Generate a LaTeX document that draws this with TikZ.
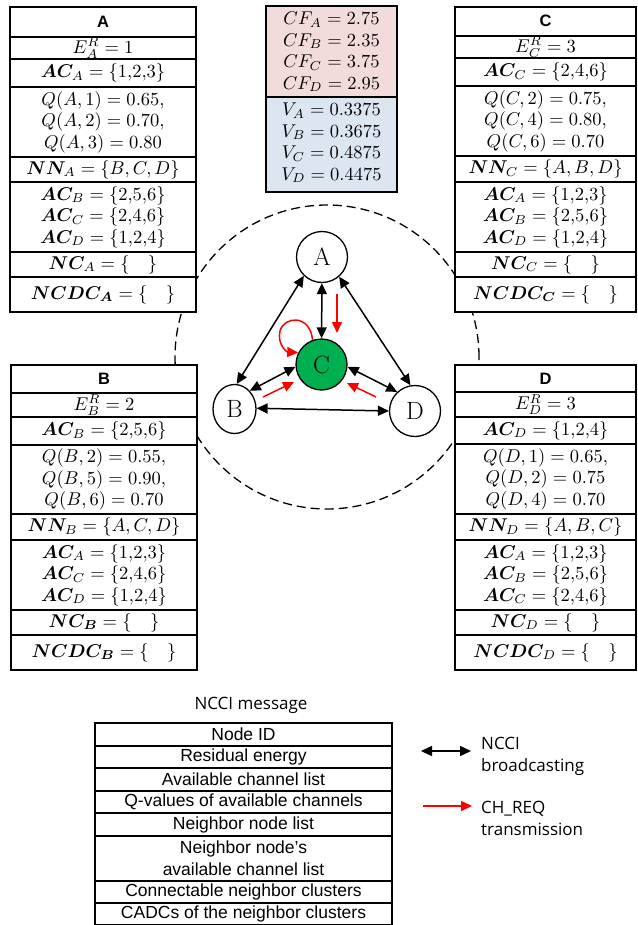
\documentclass[tikz,border=0pt]{standalone}
\usepackage{amsmath,bm}
\usepackage{fontspec}
\setsansfont{Liberation Sans}
\newfontfamily\legfont{Open Sans}
\usetikzlibrary{arrows.meta,shapes.geometric}
\definecolor{pinkbg}{HTML}{F2DCDB}
\definecolor{bluebg}{HTML}{DCE6F1}
\definecolor{cgreen}{HTML}{00B050}
\tikzset{
  boxline/.style={line width=2.2pt},
  mt/.style={font=\fontsize{10}{11.62}\selectfont, scale=1.85, align=center, inner sep=0pt},
  hdr/.style={font=\fontsize{16.5}{16.5}\selectfont\sffamily\bfseries, inner sep=0pt},
  tbl/.style={font=\fontsize{17.5}{22}\selectfont\sffamily, align=center, inner sep=0pt},
  leg/.style={font=\fontsize{17}{22}\selectfont\legfont, align=left, inner sep=0pt},
  nd/.style={circle, draw, line width=1.3pt, fill=white, inner sep=0pt, font=\fontsize{25}{25}\selectfont},
  barr/.style={line width=1.5pt, {Triangle[length=11pt,width=10pt]}-{Triangle[length=11pt,width=10pt]}},
  rarr/.style={line width=1.5pt, red, -{Triangle[length=11pt,width=10pt]}},
}
\begin{document}
\begin{tikzpicture}[x=1pt,y=-1pt]
\fill[white] (0,0) rectangle (637,925);
\useasboundingbox (0,0) rectangle (637,925);

% dashed circle (range)
\draw[line width=1.3pt, dash pattern=on 9pt off 5pt] (327,357) circle[radius=152pt];

% ---------- Box A ----------
\draw[boxline, fill=white] (10,7) rectangle (196,312);
\foreach \y in {37,59,87,157,182,252,277} \draw[boxline] (10,\y) -- (196,\y);
\node[hdr] (A-h) at (103,22) {A};
\node[mt] (A-e) at (103,48) {$E_A^R = 1$};
\node[mt] (A-ac) at (103,73) {$\bm{AC}_A = \{1{,}2{,}3\}$};
\node[mt] (A-q) at (103,122) {$Q(A,1) = 0.65,$\\$Q(A,2) = 0.70,$\\$Q(A,3) = 0.80$};
\node[mt] (A-nn) at (103,169.5) {$\bm{NN}_A = \{B,C,D\}$};
\node[mt] (A-acs) at (103,217) {$\bm{AC}_B = \{2{,}5{,}6\}$\\$\bm{AC}_C = \{2{,}4{,}6\}$\\$\bm{AC}_D = \{1{,}2{,}4\}$};
\node[mt] (A-nc) at (103,264.5) {$\bm{NC}_A = \{\quad\}$};
\node[mt] (A-ncdc) at (103,294.5) {$\bm{NCDC}_{\bm{A}} = \{\quad\}$};

% ---------- Box C ----------
\draw[boxline, fill=white] (455,7) rectangle (636,312);
\foreach \y in {36,58,86,156,182,252,277} \draw[boxline] (455,\y) -- (636,\y);
\node[hdr] (C-h) at (545.5,21) {C};
\node[mt] (C-e) at (545.5,47) {$E_C^R = 3$};
\node[mt] (C-ac) at (545.5,72) {$\bm{AC}_C = \{2{,}4{,}6\}$};
\node[mt] (C-q) at (545.5,121) {$Q(C,2) = 0.75,$\\$Q(C,4) = 0.80,$\\$Q(C,6) = 0.70$};
\node[mt] (C-nn) at (545.5,169) {$\bm{NN}_C = \{A,B,D\}$};
\node[mt] (C-acs) at (545.5,217) {$\bm{AC}_A = \{1{,}2{,}3\}$\\$\bm{AC}_B = \{2{,}5{,}6\}$\\$\bm{AC}_D = \{1{,}2{,}4\}$};
\node[mt] (C-nc) at (545.5,264.5) {$\bm{NC}_C = \{\quad\}$};
\node[mt] (C-ncdc) at (545.5,294.5) {$\bm{NCDC}_{\bm{C}} = \{\quad\}$};

% ---------- Box B ----------
\draw[boxline, fill=white] (11,365) rectangle (197,670);
\foreach \y in {393,417,445,514,540,610,635} \draw[boxline] (11,\y) -- (197,\y);
\node[hdr] (B-h) at (104,379) {B};
\node[mt] (B-e) at (104,405) {$E_B^R = 2$};
\node[mt] (B-ac) at (104,431) {$\bm{AC}_B = \{2{,}5{,}6\}$};
\node[mt] (B-q) at (104,479.5) {$Q(B,2) = 0.55,$\\$Q(B,5) = 0.90,$\\$Q(B,6) = 0.70$};
\node[mt] (B-nn) at (104,527) {$\bm{NN}_B = \{A,C,D\}$};
\node[mt] (B-acs) at (104,575) {$\bm{AC}_A = \{1{,}2{,}3\}$\\$\bm{AC}_C = \{2{,}4{,}6\}$\\$\bm{AC}_D = \{1{,}2{,}4\}$};
\node[mt] (B-nc) at (104,622.5) {$\bm{NC}_{\bm{B}} = \{\quad\}$};
\node[mt] (B-ncdc) at (104,652.5) {$\bm{NCDC}_{\bm{B}} = \{\quad\}$};

% ---------- Box D ----------
\draw[boxline, fill=white] (455,365) rectangle (636,670);
\foreach \y in {392,417,444,514,540,610,635} \draw[boxline] (455,\y) -- (636,\y);
\node[hdr] (D-h) at (545.5,378.5) {D};
\node[mt] (D-e) at (545.5,404.5) {$E_D^R = 3$};
\node[mt] (D-ac) at (545.5,430.5) {$\bm{AC}_D = \{1{,}2{,}4\}$};
\node[mt] (D-q) at (545.5,479) {$Q(D,1) = 0.65,$\\$Q(D,2) = 0.75$\\$Q(D,4) = 0.70$};
\node[mt] (D-nn) at (545.5,527) {$\bm{NN}_D = \{A,B,C\}$};
\node[mt] (D-acs) at (545.5,575) {$\bm{AC}_A = \{1{,}2{,}3\}$\\$\bm{AC}_B = \{2{,}5{,}6\}$\\$\bm{AC}_C = \{2{,}4{,}6\}$};
\node[mt] (D-nc) at (545.5,622.5) {$\bm{NC}_D = \{\quad\}$};
\node[mt] (D-ncdc) at (545.5,652.5) {$\bm{NCDC}_D = \{\quad\}$};

% ---------- CF / V box ----------
\draw[boxline, fill=pinkbg] (266,6) rectangle (397,97);
\draw[boxline, fill=bluebg] (266,97) rectangle (397,192);
\node[mt] (cf) at (331.5,52) {$CF_A = 2.75$\\$CF_B = 2.35$\\$CF_C = 3.75$\\$CF_D = 2.95$};
\node[mt] (vv) at (331.5,143) {$V_A = 0.3375$\\$V_B = 0.3675$\\$V_C = 0.4875$\\$V_D = 0.4475$};

% ---------- network ----------
\node[nd, minimum size=51pt] (A) at (322,257) {A};
\node[nd, minimum size=51pt, fill=cgreen] (C) at (321.5,364.5) {C};
\node[nd, ellipse, minimum width=43pt, minimum height=49pt] (B) at (234.5,409) {B};
\node[nd, minimum size=51pt] (D) at (415,411) {D};

\draw[barr] (A.226) -- (B.85);
\draw[barr] (A) -- (C);
\draw[barr] (A.311) -- (D.100);
\draw[barr] (B.50) -- (C.185);
\draw[barr] (C.355) -- (D.133);
\draw[barr] (B.2) -- (D.180);

\coordinate (rA1) at (337,294);
\coordinate (rA2) at (337,333);
\coordinate (rB1) at (263,397);
\coordinate (rB2) at (294,382);
\coordinate (rD1) at (376,397);
\coordinate (rD2) at (347,383);
\draw[rarr] (rA1) -- (rA2);
\draw[rarr] (rB1) -- (rB2);
\draw[rarr] (rD1) -- (rD2);
\draw[rarr] (C.110) .. controls (310,314) and (284,316) .. (280,331)
   .. controls (277,345) and (287,352) .. (C.153);

% ---------- NCCI message table ----------
\node[leg] (title) at (251,705) {NCCI message};
\draw[boxline, fill=white] (95,723) rectangle (392,925);
\foreach \y in {746,768,791,813,836,881,903} \draw[boxline] (95,\y) -- (392,\y);
\node[tbl] (t1) at (243.5,734.5) {Node ID};
\node[tbl] (t2) at (243.5,757) {Residual energy};
\node[tbl] (t3) at (243.5,779.5) {Available channel list};
\node[tbl] (t4) at (243.5,802) {Q-values of available channels};
\node[tbl] (t5) at (243.5,824.5) {Neighbor node list};
\node[tbl] (t6) at (243.5,858.5) {Neighbor node’s\\available channel list};
\node[tbl] (t7) at (243.5,892) {Connectable neighbor clusters};
\node[tbl] (t8) at (243.5,914) {CADCs of the neighbor clusters};

% ---------- legend ----------
\coordinate (l1a) at (421,751);
\coordinate (l1b) at (471,751);
\coordinate (l2a) at (423,806);
\coordinate (l2b) at (472,806);
\draw[barr] (l1a) -- (l1b);
\draw[rarr] (l2a) -- (l2b);
\node[leg, anchor=west] (leg1) at (481,756) {NCCI\\broadcasting};
\node[leg, anchor=west] (leg2) at (481,818) {CH\_REQ\\transmission};
\end{tikzpicture}
\end{document}
